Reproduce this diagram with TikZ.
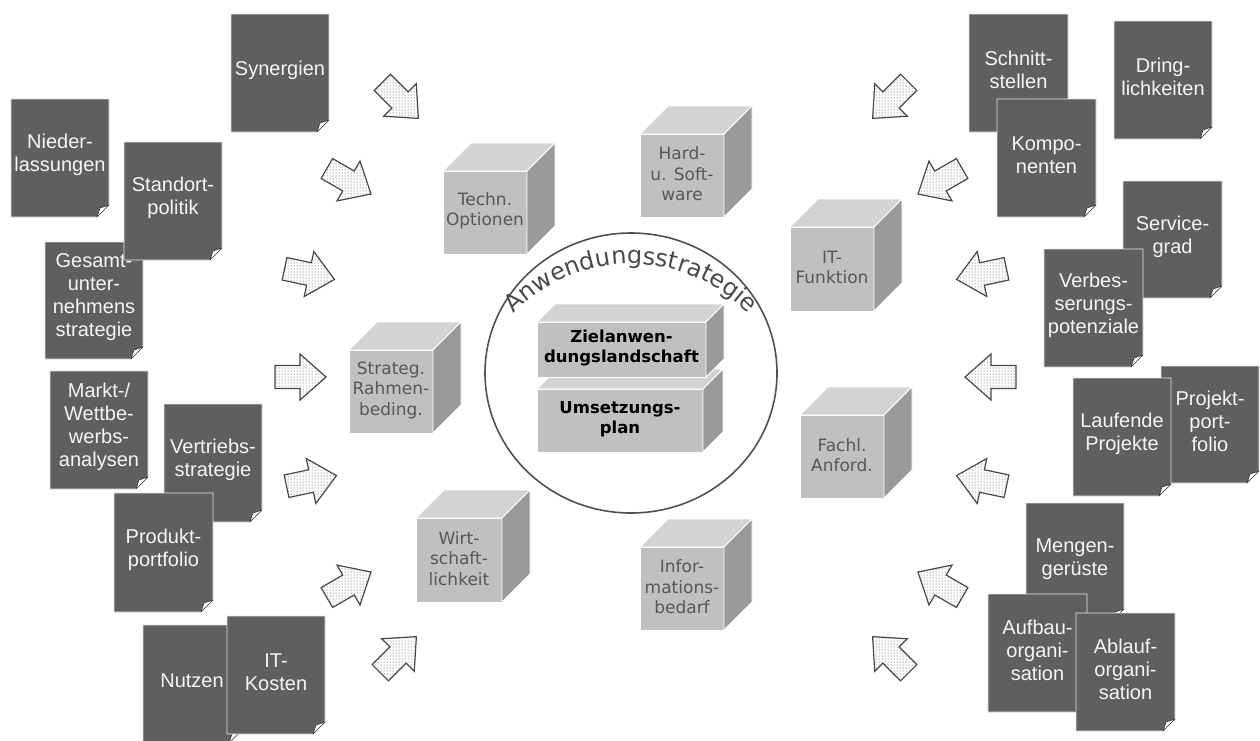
\documentclass[tikz,border=0pt]{standalone}
\usepackage{fontspec}
\setmainfont{Liberation Sans}
\newfontfamily\vfont{DejaVu Sans}
\usetikzlibrary{patterns,decorations.text,shapes.geometric}
\definecolor{docgray}{HTML}{5F5F5F}
\definecolor{docedge}{HTML}{E6E6E6}
\definecolor{doctextc}{HTML}{F4F4F4}
\definecolor{foldline}{HTML}{303030}
\definecolor{cubefront}{HTML}{C0C0C0}
\definecolor{cubetop}{HTML}{D3D3D3}
\definecolor{cubeside}{HTML}{9A9A9A}
\definecolor{cubetextc}{HTML}{585858}
\definecolor{arrowline}{HTML}{484848}
\definecolor{dotgray}{HTML}{404040}
\definecolor{circlec}{HTML}{505050}
\definecolor{arctextc}{HTML}{4A4A4A}
\tikzset{
  docbody/.style={fill=docgray, draw=docedge, line width=0.8pt},
  docfold/.style={fill=white, draw=foldline, line width=0.6pt, line join=round},
  doctext/.style={text=doctextc, font=\fontsize{20}{23}\selectfont, align=center, inner sep=0pt},
  cubefrontst/.style={fill=cubefront, draw=white, line width=0.8pt},
  cubetopst/.style={fill=cubetop, draw=white, line width=0.8pt},
  cubesidest/.style={fill=cubeside, draw=white, line width=0.8pt},
  cubetext/.style={text=cubetextc, font=\vfont\fontsize{17}{20.5}\selectfont, align=center, inner sep=0pt},
  coretext/.style={text=black, font=\vfont\bfseries\fontsize{16.5}{20}\selectfont, align=center, inner sep=0pt},
  blockarrowst/.style={draw=arrowline, line width=1.2pt, line join=miter, preaction={fill=white}, pattern=dots, pattern color=dotgray},
  ringst/.style={draw=circlec, line width=1.6pt, ellipse, inner sep=0pt},
}
% name, x1, y1, x2, y2, text
\newcommand\docsheet[6]{%
  \filldraw[docbody] (#2,#3) -- (#4,#3) -- (#4,#5-12) -- (#4-12,#5) -- (#2,#5) -- cycle;
  \filldraw[docfold] (#4,#5-12) -- (#4-12,#5) -- (#4-9,#5-9) -- cycle;
  \node[doctext] (#1) at ({(#2+#4)/2},{(#3+#5)/2-3}) {#6};
}
% name, x1, y1, x2, y2, depth, text, text style
\newcommand\cubebox[8]{%
  \filldraw[cubefrontst] (#2,#3) rectangle (#4,#5);
  \filldraw[cubetopst] (#2,#3) -- (#2+#6,#3-#6) -- (#4+#6,#3-#6) -- (#4,#3) -- cycle;
  \filldraw[cubesidest] (#4,#3) -- (#4+#6,#3-#6) -- (#4+#6,#5-#6) -- (#4,#5) -- cycle;
  \node[#8] (#1) at ({(#2+#4)/2},{(#3+#5)/2-1.5}) {#7};
}
% x, y, angle
\newcommand\blockarrow[3]{%
  \draw[blockarrowst, shift={(#1,#2)}, rotate=#3]
    (-25,11.5) -- (0,11.5) -- (0,23) -- (26,0) -- (0,-23) -- (0,-11.5) -- (-25,-11.5) -- cycle;
}
\begin{document}
\begin{tikzpicture}[x=1pt,y=-1pt]
\useasboundingbox (0,0) rectangle (1260,740);
\fill[white] (0,0) rectangle (1260,740);

% arrows, left side
\blockarrow{400}{100}{-45}
\blockarrow{348.5}{181}{-30}
\blockarrow{309}{274}{-12}
\blockarrow{300}{377}{0}
\blockarrow{311}{481}{12}
\blockarrow{348.5}{585}{30}
\blockarrow{398}{655}{45}
% arrows, right side
\blockarrow{891}{100}{225}
\blockarrow{940.5}{181}{210}
\blockarrow{982}{274}{192}
\blockarrow{991}{377}{180}
\blockarrow{982}{481}{168}
\blockarrow{940.5}{585}{150}
\blockarrow{891}{655}{135}

% cubes
\cubebox{techn}{443}{171}{527}{254}{28}{Techn.\\Optionen}{cubetext}
\cubebox{hardsoft}{640}{134}{724}{217}{28}{Hard-\\u. Soft-\\ware}{cubetext}
\cubebox{itfunk}{790}{227}{874}{311}{28}{IT-\\Funktion}{cubetext}
\cubebox{strateg}{349}{350}{433}{433}{28}{Strateg.\\Rahmen-\\beding.}{cubetext}
\cubebox{fachl}{800}{415}{884}{498}{28}{Fachl.\\Anford.}{cubetext}
\cubebox{wirt}{416}{518}{502}{602}{28}{Wirt-\\schaft-\\lichkeit}{cubetext}
\cubebox{info}{640}{547}{724}{630}{28}{Infor-\\mations-\\bedarf}{cubetext}

% central circle
\node[ringst, minimum width=292, minimum height=280] (ring) at (631,373) {};
\coordinate (arcc) at (631,427);
\path[decorate, decoration={text along path, text align=center, text color=arctextc,
  text={|\vfont\fontsize{24}{28}\selectfont|Anwendungsstrategie}}]
  (arcc) ++(138:163pt) arc[start angle=138, end angle=42, radius=163pt];
\cubebox{umsetz}{537}{389}{703}{452}{20}{Umsetzungs-\\plan}{coretext}
\cubebox{ziel}{537}{322}{706}{377}{18}{Zielanwen-\\dungslandschaft}{coretext}

% documents, left
\docsheet{niederl}{11}{99}{109}{217}{Nieder-\\lassungen}
\docsheet{synerg}{231}{14}{329}{132}{Synergien}
\docsheet{gesamt}{45}{242}{143}{359}{Gesamt-\\unter-\\nehmens\\strategie}
\docsheet{standort}{124}{142}{222}{260}{Standort-\\politik}
\docsheet{markt}{50}{371}{148}{489}{Markt-/\\Wettbe-\\werbs-\\analysen}
\docsheet{vertrieb}{164}{404}{262}{522}{Vertriebs-\\strategie}
\docsheet{produkt}{114}{493}{213}{612}{Produkt-\\portfolio}
\docsheet{nutzen}{143}{625}{241}{743}{Nutzen}
\docsheet{itkosten}{227}{616}{325}{734}{IT-\\Kosten}
% documents, right
\docsheet{schnitt}{969}{14}{1068}{132}{Schnitt-\\stellen}
\docsheet{kompo}{997}{99}{1096}{217}{Kompo-\\nenten}
\docsheet{dring}{1114}{21}{1212}{139}{Dring-\\lichkeiten}
\docsheet{service}{1123}{181}{1222}{298}{Service-\\grad}
\docsheet{verbes}{1044}{249}{1143}{367}{Verbes-\\serungs-\\potenziale}
\docsheet{projport}{1161}{366}{1259}{483}{Projekt-\\port-\\folio}
\docsheet{laufend}{1073}{378}{1171}{496}{Laufende\\Projekte}
\docsheet{mengen}{1026}{503}{1124}{621}{Mengen-\\gerüste}
\docsheet{aufbau}{988}{594}{1087}{712}{Aufbau-\\organi-\\sation}
\docsheet{ablauf}{1076}{613}{1175}{731}{Ablauf-\\organi-\\sation}
\end{tikzpicture}
\end{document}
